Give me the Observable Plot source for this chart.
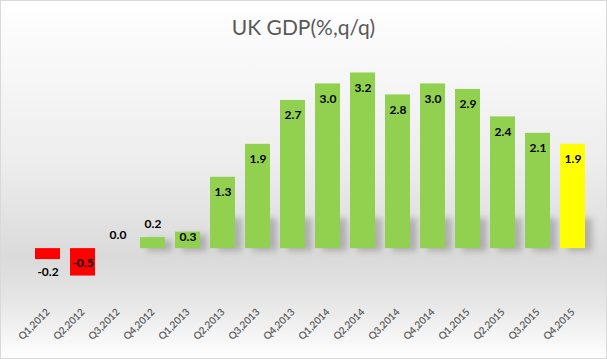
<!DOCTYPE html>
<html>
<head>
<meta charset="utf-8">
<script src="https://cdn.jsdelivr.net/npm/d3@7"></script>
<script src="https://cdn.jsdelivr.net/npm/@observablehq/plot@0.6"></script>
<style>
  html, body { margin: 0; padding: 0; background: #fff; }
  #chart {
    position: relative; width: 607px; height: 359px; overflow: hidden;
    background: linear-gradient(to bottom, #ffffff 0%, #f9f9f9 15%, #ededed 45%, #dadada 72%, #e6e6e6 84%, #ffffff 100%);
    box-shadow: inset 0 0 0 1px #d9d9d9;
  }
  #title {
    height: 48px; line-height: 54px; text-align: center;
    font-family: Lato, "Open Sans", sans-serif; font-size: 21px; color: #595959;
  }
  svg { display: block; background: transparent !important; }
</style>
</head>
<body>
<div id="chart"><div id="title">UK GDP(%,q/q)</div></div>
<script>
const quarters = ["Q1,2012","Q2,2012","Q3,2012","Q4,2012","Q1,2013","Q2,2013","Q3,2013","Q4,2013",
                  "Q1,2014","Q2,2014","Q3,2014","Q4,2014","Q1,2015","Q2,2015","Q3,2015","Q4,2015"];
const gdp = [-0.2, -0.5, 0.0, 0.2, 0.3, 1.3, 1.9, 2.7, 3.0, 3.2, 2.8, 3.0, 2.9, 2.4, 2.1, 1.9];
const colorNegative = "#ff0000";
const colorPositive = "#92d050";
const colorLatest = "#ffff00";

const data = quarters.map((q, i) => ({
  q, v: gdp[i],
  fill: i === quarters.length - 1 ? colorLatest : (gdp[i] < 0 ? colorNegative : colorPositive)
}));

// Excel-like label placement rules
function labelAnchor(d) {
  if (d.v >= 1) return {y: d.v, dy: 15};
  if (d.v >= 0.25) return {y: d.v, dy: 5};
  if (d.v >= 0) return {y: d.v, dy: -13};
  if (d.v <= -0.3) return {y: d.v / 2, dy: 1};
  return {y: d.v, dy: 13};
}
const labelData = data.map(d => ({...d, ...labelAnchor(d)}));
const groups = d3.groups(labelData, d => d.dy);

const shadowData = data.filter(d => d.v > 0.05);

const plot = Plot.plot({
  width: 607,
  height: 311,
  marginLeft: 21,
  marginRight: 9,
  marginTop: 8,
  marginBottom: 56,
  style: {background: "transparent", overflow: "visible"},
  x: {domain: quarters, paddingInner: 0.29, paddingOuter: 0.3, label: null},
  y: {domain: [-1, 3.5], axis: null},
  marks: [
    Plot.barY(shadowData, {x: "q", y1: 0, y2: d => Math.min(d.v, 0.6), fill: "#555", fillOpacity: 0.35, dx: 7, dy: 3}),
    Plot.barY(data, {x: "q", y: "v", fill: "fill"}),
    ...groups.map(([dy, arr]) => Plot.text(arr, {
      x: "q", y: "y", text: d => d.v.toFixed(1), dy,
      fontSize: 12, fontWeight: "bold", fill: "#000",
      fontFamily: "Lato, 'Open Sans', sans-serif"
    })),
    Plot.axisX({tickRotate: -45, tickSize: 0, tickPadding: 7, fontSize: 10, fontWeight: 600, label: null,
      fill: "#595959", fontFamily: "Lato, 'Open Sans', sans-serif"})
  ]
});
plot.querySelectorAll("g[aria-label='bar']").forEach((g, i) => {
  if (i === 0) g.setAttribute("filter", "blur(3px)");
});
document.getElementById("chart").appendChild(plot);
</script>
</body>
</html>
